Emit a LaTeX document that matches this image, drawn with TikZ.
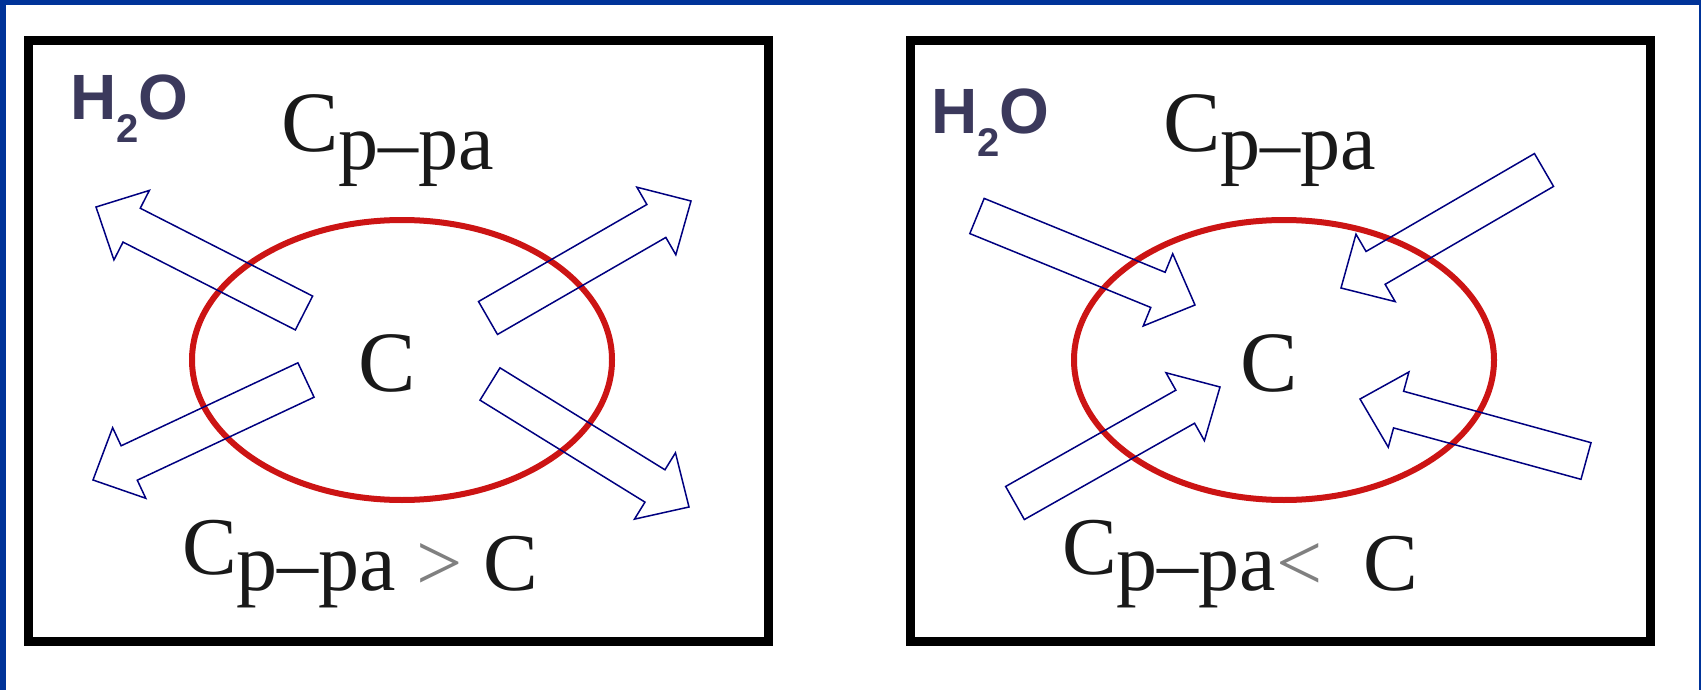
\documentclass[tikz,border=0pt]{standalone}
\usepackage{fontspec}
\setmainfont{Liberation Serif}
\newfontfamily\hfont{Liberation Sans}
\usetikzlibrary{positioning}
\definecolor{frameblue}{RGB}{0,51,153}
\definecolor{flowblue}{RGB}{0,0,128}
\definecolor{cellred}{RGB}{204,20,20}
\definecolor{waterink}{RGB}{59,57,92}
\newcommand{\flux}[4]{%
  \pgfmathsetmacro{\fang}{atan2(#2-#4,#3-#1)}
  \pgfmathsetmacro{\flen}{veclen(#3-#1,#4-#2)}
  \begin{scope}[shift={(#1,#2)},rotate=\fang]
    \draw[flow] (0,-19) -- (\flen-40,-19) -- (\flen-40,-39) -- (\flen,0)
      -- (\flen-40,39) -- (\flen-40,19) -- (0,19) -- cycle;
  \end{scope}
}
\newcommand{\lowpart}[1]{\raisebox{-18pt}{\fontsize{80}{80}\selectfont #1}}
\newcommand{\water}{H\raisebox{-23pt}{\fontsize{40}{40}\selectfont 2}O}

\begin{document}
\begin{tikzpicture}[x=1pt,y=-1pt,
  panel/.style={draw=black,line width=9pt},
  cell/.style={draw=cellred,line width=6pt},
  flow/.style={draw=flowblue,line width=1.5pt,line join=miter},
  conc/.style={inner sep=0pt,text=black!90,font=\fontsize{86}{86}\selectfont},
  rel/.style={conc,font=\fontsize{82}{82}\selectfont},
  water/.style={inner sep=0pt,text=waterink,font=\hfont\bfseries\fontsize{64}{64}\selectfont}]
  \fill[frameblue] (0,0) rectangle (1701,690);
  \fill[white] (6,5) rectangle (1699,690);
  \foreach \x/\n in {0/L,882/R} {
    \draw[panel] (28+\x,41) rectangle (768+\x,641);
    \draw[cell] (402+\x,360) ellipse [x radius=210pt,y radius=140pt];
    \node[conc,anchor=base west] (top\n) at (281+\x,152) {C\lowpart{p–pa}};
    \node[conc] (mid\n) at (387+\x,363) {C};
  }
  \node[water,anchor=base west] (h2oL) at (70,120) {\water};
  \node[water,anchor=base west] (h2oR) at (931,134) {\water};
  \node[rel,anchor=base west] (relL) at (182,574) {C\raisebox{-16pt}{p–pa \textcolor{gray}{>} C}};
  \node[rel,anchor=base west] (relR) at (1062,574) {C\raisebox{-16pt}{p–pa\textcolor{gray}{<}~~C}};
  \flux{304}{313}{96}{207}
  \flux{488}{318}{691}{201}
  \flux{306}{380}{93}{480}
  \flux{490}{384}{689}{507}
  \flux{977}{216}{1195}{305}
  \flux{1544}{170}{1341}{288}
  \flux{1015}{503}{1220}{387}
  \flux{1586}{461}{1360}{399}
\end{tikzpicture}
\end{document}
